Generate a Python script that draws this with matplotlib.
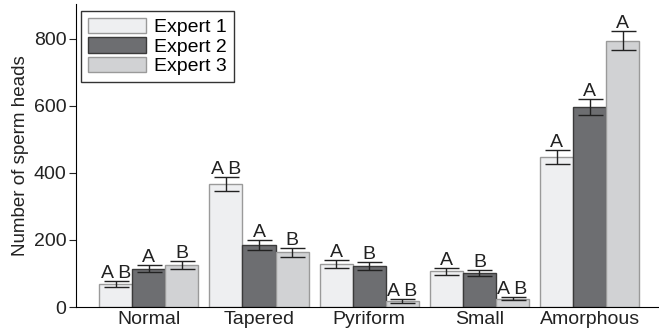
import matplotlib
matplotlib.use("Agg")
import matplotlib.pyplot as plt
import numpy as np

categories = ["Normal", "Tapered", "Pyriform", "Small", "Amorphous"]
series_names = ["Expert 1", "Expert 2", "Expert 3"]
expert1 = [69, 367, 127, 106, 447]
expert2 = [114, 185, 122, 100, 595]
expert3 = [125, 163, 18, 25, 794]
err1 = [8, 20, 12, 11, 20]
err2 = [10, 15, 11, 9, 24]
err3 = [12, 13, 5, 5, 28]
letters1 = ["A B", "A B", "A", "A", "A"]
letters2 = ["A", "A", "B", "B", "A"]
letters3 = ["B", "B", "A B", "A B", "A"]
yticks = [0, 200, 400, 600, 800]

plt.rcParams['font.family'] = ['Liberation Sans', 'DejaVu Sans']

fig = plt.figure(figsize=(6.59, 3.32), dpi=100)
ax = fig.add_axes([76/659, 25/332, (658-76)/659, (307-4)/332])

x = np.arange(len(categories))
w = 0.3
face = ["#eeeff1", "#6d6e71", "#d1d2d4"]
edge = ["#9a9a9a", "#3a3a3a", "#9a9a9a"]
vals = [expert1, expert2, expert3]
errs = [err1, err2, err3]
lets = [letters1, letters2, letters3]
for i in range(3):
    xs = x + (i - 1) * w
    ax.bar(xs, vals[i], w, color=face[i], edgecolor=edge[i], linewidth=1.0,
           label=series_names[i], zorder=2)
    ax.errorbar(xs, vals[i], yerr=errs[i], fmt='none', ecolor='#222222',
                elinewidth=1.0, capsize=9, capthick=1.0, zorder=3)
    for xx, v, e, t in zip(xs, vals[i], errs[i], lets[i]):
        ax.text(xx, v + e - 3, t, ha='center', va='bottom', fontsize=14,
                color='#222222')

ax.set_xlim(-0.66, 4.62)
ax.set_ylim(0, 903)
ax.set_yticks(yticks)
ax.set_xticks(x)
ax.set_xticklabels(categories)
ax.tick_params(axis='x', length=0, labelsize=14, pad=3, colors='#222222')
ax.tick_params(axis='y', length=5, direction='out', labelsize=14, pad=2, colors='#222222')
ax.spines['top'].set_visible(False)
ax.spines['right'].set_visible(False)
ax.set_ylabel("Number of sperm heads", fontsize=13.5, color='#222222', labelpad=3)

leg = ax.legend(loc='upper left', bbox_to_anchor=(0.002, 0.99), fontsize=14,
                frameon=True, fancybox=False, edgecolor='black', handlelength=3.0,
                handleheight=0.85, labelspacing=0.05, borderpad=0.35, handletextpad=0.4,
                borderaxespad=0.2)
leg.get_frame().set_linewidth(1.0)

fig.savefig("out.png", dpi=100)
